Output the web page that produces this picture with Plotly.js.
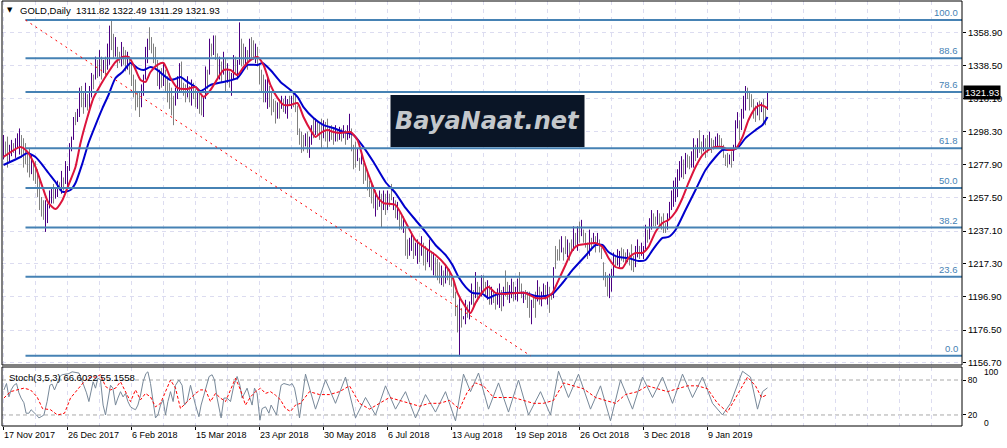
<!DOCTYPE html>
<html><head><meta charset="utf-8">
<script src="https://cdn.plot.ly/plotly-3.0.1.min.js"></script>
<style>html,body{margin:0;padding:0;background:#fff;}#chart{width:1007px;height:448px;}</style>
</head><body><div id="chart"></div>
<script>
// ---- price bars (daily high / low, direction: 1 = up bar, 0 = down bar) ----
const barHigh = [
1296,1292,1295,1290,1293,1291,1294,1297,1300,1296,1294,1291,1285,1288,1284,1280,
1280,1275,1269,1258,1256,1256,1254,1262,1264,1266,1264,1268,1267,1274,1270,1280,
1277,1291,1295,1307,1310,1312,1325,1326,1322,1328,1321,1326,1334,1333,1344,1342,
1348,1344,1342,1344,1352,1363,1366.4,1358,1356,1350,1347,1353,1350,1348,1347,1344,
1340,1333,1330,1323,1322,1327,1333,1350,1355,1362,1356,1352,1350,1342,1336,1337,
1340,1336,1332,1328,1325,1320,1325,1332,1340,1341,1328,1327,1332,1326,1330,1328,
1324,1322,1323,1321,1320,1338,1336,1355,1352,1357,1357,1346,1344,1341,1347,1343,
1340,1335,1334,1345,1344,1342,1365,1355,1352,1350,1348,1355,1356,1354,1352,1350,
1340,1336,1333,1330,1332,1326,1322,1318,1317,1316,1318,1320,1318,1320,1318,1320,
1320,1322,1320,1314,1300,1298,1296,1297,1298,1295,1302,1306,1306,1305,1303,1306,
1305,1304,1306,1300,1302,1300,1302,1299,1301,1300,1302,1299,1302,1309,1300,1290,
1292,1288,1282,1286,1279,1276,1274,1268,1266,1265,1262,1258,1262,1260,1262,1260,
1262,1260,1266,1258,1256,1255,1250,1247,1246,1240,1232,1233,1236,1234,1230,1232,
1230,1234,1230,1228,1226,1232,1225,1224,1221,1220,1218,1216,1213,1216,1215,1214,
1210,1207,1200,1192,1196,1190,1185,1195,1192,1194,1205,1201,1212,1206,1203,1210,
1210,1206,1207,1204,1203,1201,1199,1202,1205,1201,1203,1213,1206,1204,1208,1206,
1203,1208,1212,1205,1200,1201,1200,1200,1195,1197,1200,1207,1203,1200,1205,1204,
1206,1203,1199,1215,1228,1226,1232,1234,1227,1234,1232,1230,1232,1240,1236,1240,
1243,1244,1238,1236,1230,1238,1233,1236,1234,1236,1232,1227,1218,1212,1210,1211,
1214,1224,1222,1226,1225,1227,1226,1224,1226,1224,1229,1222,1228,1232,1228,1230,
1228,1241,1238,1245,1250,1248,1246,1250,1248,1246,1248,1242,1248,1255,1262,1268,
1270,1275,1280,1283,1281,1285,1284,1283,1286,1294,1290,1294,1299,1292,1296,1294,
1296,1298,1294,1293,1295,1297,1296,1294,1290,1284,1285,1284,1286,1290,1305,1310,
1305,1312,1320,1326,1325,1323,1321,1318,1314,1316,1317,1316,1318,1313,1322.49
];
const barLow = [
1281,1284,1276,1279,1283,1285,1282,1288,1284,1282,1276,1278,1273,1270,1272,1268,
1266,1258,1250,1246,1244,1236.6,1242,1251,1254,1254,1257,1258,1262,1260,1262,1266,
1264,1274,1286,1293,1302,1304,1307,1313,1309,1313,1311,1310,1319,1324,1330,1331,
1332,1330,1334,1332,1336,1339,1348,1343,1344,1337,1340,1338,1339,1335,1336,1333,
1326,1319,1311,1313,1307,1313,1320,1330,1340,1348,1346,1340,1338,1326,1324,1325,
1326,1322,1316,1312,1308,1302,1314,1318,1322,1322,1320,1316,1319,1316,1314,1318,
1313,1312,1309,1308,1307,1318,1324,1333,1344,1345,1342,1331,1330,1328,1333,1322,
1328,1325,1320,1330,1334,1330,1339,1338,1339,1338,1336,1342,1343,1342,1340,1338,
1327,1322,1316,1316,1312,1313,1308,1310,1303,1306,1306,1312,1310,1309,1306,1314,
1312,1313,1310,1296,1290,1285,1286,1289,1285,1282,1290,1294,1296,1296,1293,1288,
1294,1292,1288,1292,1293,1290,1292,1292,1293,1292,1294,1290,1293,1294,1286,1275,
1276,1280,1274,1278,1266,1268,1262,1258,1254,1251,1246,1250,1252,1239,1250,1247,
1250,1252,1256,1250,1245,1244,1238,1238,1236,1222,1220,1222,1225,1220,1222,1217,
1218,1222,1216,1213,1218,1215,1213,1210,1209,1207,1205,1204,1203,1205,1207,1204,
1203,1196,1185,1175,1160.4,1178,1183,1180,1184,1183,1192,1191,1196,1194,1196,1197,
1199,1197,1195,1192,1192,1193,1189,1192,1190,1188,1191,1197,1195,1193,1196,1194,
1195,1194,1200,1196,1193,1195,1190,1184,1180,1190,1184,1194,1192,1191,1197,1195,
1192,1187,1195,1196,1214,1219,1219,1224,1219,1223,1221,1219,1225,1225,1228,1225,
1230,1234,1230,1227,1220,1222,1225,1229,1224,1228,1224,1220,1207,1203,1197,1196,
1200,1209,1215,1216,1215,1219,1218,1217,1218,1216,1213,1212,1215,1221,1220,1222,
1220,1226,1230,1232,1238,1240,1240,1241,1239,1238,1236,1236,1238,1244,1250,1252,
1255,1258,1268,1270,1269,1272,1276,1275,1276,1276,1280,1282,1285,1284,1286,1282,
1285,1287,1285,1287,1289,1288,1289,1286,1282,1277,1276,1278,1276,1280,1287,1300,
1293,1299,1306,1311,1318,1311,1313,1306,1304,1308,1305,1310,1303,1302,1311.29
];
const barUp = [
1,0,0,1,1,0,1,1,1,0,0,0,0,0,1,0, 0,0,0,0,0,1,1,1,1,0,1,1,0,1,0,1,
1,1,1,1,0,1,1,0,0,1,0,1,1,0,1,0, 1,0,1,0,1,1,0,0,1,0,0,1,0,0,1,0,
0,0,0,0,0,1,1,1,1,0,0,0,0,0,1,0, 1,0,0,0,0,0,1,1,1,0,0,0,1,0,1,0,
0,1,0,0,1,1,0,1,0,1,0,0,1,0,1,0, 1,0,1,1,0,1,1,0,0,1,0,1,0,0,1,0,
0,0,0,1,1,0,0,0,0,1,0,1,0,1,1,0, 1,0,0,0,0,0,0,1,0,1,1,0,1,0,0,0,
1,0,0,1,0,0,1,0,1,0,1,0,1,1,0,0, 0,1,0,1,0,0,0,0,0,0,1,0,1,0,1,0,
1,0,0,1,0,1,0,0,1,0,0,1,1,0,1,1, 0,1,0,0,1,1,0,1,0,0,0,1,0,1,0,0,
0,0,0,0,1,0,1,1,0,1,1,0,1,0,0,1, 0,0,1,0,1,0,0,1,1,0,1,0,0,1,1,0,
1,1,0,0,1,0,0,0,1,0,0,1,0,1,1,0, 1,0,0,1,0,0,0,1,0,0,1,0,0,1,0,1,
0,1,0,0,0,1,0,1,0,1,0,0,0,0,0,1, 1,1,0,1,1,0,0,0,1,0,0,0,1,1,0,1,
1,1,0,1,1,0,0,1,0,0,0,0,1,1,1,1, 1,1,1,1,0,1,0,0,1,1,0,1,0,0,1,0,
0,1,0,0,1,1,0,0,0,0,0,1,0,1,1,1, 0,1,1,1,0,0,0,0,0,1,0,1,0,0,1
];

// ---- moving averages (bar index, price) ----
const fastMaX = [0,8.5,12,16,19.5,22.5,26,29.5,32.5,36,38.5,42,45,48.5,52.5,56,59.5,62.5,65,68.5,71,73.5,77,80,83.5,87,92,96,100,103.5,106,110,113.5,117,120,123.5,127,130,133.5,137,140,143.5,147,150,153.5,156,158.5,162,165,168.5,173.5,177,180,183.5,187,190,196,201,206,211,216,221,224.5,227,231,233.5,236,239.5,242.5,246,251,256,261,266,271,274.5,277.5,281,284.5,287.5,291,296,299.5,302.5,306,309.5,312.5,316,319.5,322.5,326,329.5,332.5,336,339.5,342.5,346,349.5,352.5,356,359.5,362.5,366,369.5,372.5,376,378.5,382];
const fastMaY = [1282.5,1288.6,1285.6,1276.4,1264.1,1254.3,1250.6,1256.2,1265.3,1276.4,1291.1,1307,1318.7,1326.6,1334.6,1340.7,1343.8,1343.8,1338.9,1329.7,1328.5,1334.6,1338.9,1340.1,1330.9,1324.8,1324.2,1325.4,1319.3,1323.6,1328.5,1335.8,1335.8,1332.7,1337.6,1341.9,1343.8,1338.9,1326.6,1318.7,1314.4,1314.4,1315.6,1307,1299,1294.8,1297.2,1299,1297.8,1297.2,1297.8,1292.9,1280.7,1268.4,1258,1254.3,1253.1,1242.7,1231.6,1226.7,1222.5,1216.3,1209,1199.2,1190.6,1186.9,1193,1199.8,1202.9,1199.2,1198.6,1199.2,1199.2,1196.1,1196.1,1199.2,1207.1,1216.3,1225.5,1228.6,1229.2,1229.8,1227.4,1220.6,1215.1,1214.5,1220.6,1223.7,1223.7,1227.4,1236.6,1242.1,1243.9,1248.8,1257.4,1266.6,1276.4,1283.7,1286.8,1288.6,1288.6,1286.8,1287.4,1294.8,1305.2,1312.5,1314.4,1312.5];
const slowMaX = [0,8.5,12,16,19.5,22.5,26,29.5,33.5,36,39.5,42.5,46,49.5,52.5,56,59.5,63.5,67,70,73.5,77,80,83.5,87,88.5,92,96,98.5,103.5,110,117,122,127,129.5,133.5,138.5,143.5,147,150,155,160,165,170,175,180,185,191,196,201,206,211,216,221,224.5,227.5,231,234.5,239.5,242.5,246,251,256,261,266,271,274.5,279.5,284.5,291,296,299.5,302.5,307.5,312.5,317.5,321,324.5,329.5,332.5,336,341,346,351,356,359.5,364.5,367.5,371,376,379.5,382];
const slowMaY = [1277.6,1282.5,1285,1282.5,1277.6,1272.7,1267.2,1261.1,1262.3,1266.6,1278.8,1291.1,1302.1,1312.5,1320.5,1330.9,1334.6,1340.1,1337,1335.8,1337.6,1335.8,1332.7,1329.7,1330.9,1331.5,1328.5,1325.4,1322.9,1326.6,1328.5,1330.9,1338.9,1338.9,1340.1,1335.8,1328.5,1323.6,1319.3,1313.1,1306.4,1302.1,1300.3,1297.8,1296,1288.6,1279.4,1267.2,1260.4,1251.3,1243.9,1236.6,1228.6,1222.5,1216.3,1209,1202.9,1199.2,1198.6,1196.1,1198,1199.2,1199.2,1199.2,1197.3,1197.3,1198.6,1205.3,1213.3,1222,1228.6,1228.6,1224.3,1221.2,1220.6,1218.8,1219.4,1225.5,1232.9,1233.5,1237.8,1250,1262.3,1274.5,1282.5,1286.8,1286.8,1288.6,1294.1,1299,1302.1,1307];

// ---- stochastic (3,5,3): main and signal (bar index, value) ----
const stochX = [0.2,1.5,2.7,3.8,5.2,6.5,7.7,8.8,10.2,11.3,12.7,13.8,16.5,17.7,18.8,20.2,21.8,23.2,24.3,25.5,26.8,28.2,29.3,32.7,34.3,37.7,38.8,40.2,41.5,42.7,43.8,44.8,46,47.2,48.5,49.8,51,52.2,53.5,54.7,56,57.2,58.5,59.8,61,62.2,63.5,64.8,66,67.2,68.5,69.8,71.2,72.2,73.5,74.8,76,77.2,78.5,79.8,81,82.2,83.5,84.8,86,87.7,89.3,90.5,91.8,93.5,94.8,96,97.7,98.8,100.2,101.5,102.8,104.3,105.5,106.8,108.2,108.8,110.2,111.8,113.5,115.2,116.8,118.2,119.3,120.5,121.8,123.2,124.3,125.5,126.8,128.2,129.3,131,132.7,133.8,136.5,137.7,138.8,140.2,143.2,144.3,145.5,146.8,148,151,156,161,166,171,176,181,186,191,196,201,206,211,216,221,226,230,233.5,237.5,242.5,247.5,252.5,257.5,262.5,268.5,273.5,277.5,282.5,287.5,293.5,298.5,303.5,308.5,314.5,319.5,324.5,329.5,334.5,339.5,344.5,349.5,354.5,359.5,363.5,369.5,373.5,377,379.5,382];
const stochY = [63,74,51,63,71,74,58,49,41,23,23,29,20,15,17,20,43,71,73,63,74,86,89,91,94,92,83,71,58,43,60,77,66,83,80,37,20,43,71,66,37,49,60,51,57,43,34,31,29,37,54,77,91,94,74,43,15,20,37,46,20,43,60,43,71,80,71,37,43,71,51,37,17,37,54,71,86,89,80,49,26,15,49,49,43,71,86,71,49,57,66,49,37,66,57,11,31,34,23,37,20,49,71,74,71,74,66,43,15,90,30,80,40,85,15,50,20,70,30,60,15,55,25,60,10,90,60,92,30,75,25,80,20,60,20,95,50,90,30,70,10,80,30,85,50,85,40,90,50,85,40,20,40,95,85,30,60,66.6];
const signalX = [0.2,3.5,6.8,10.2,13.5,16.8,19.5,23.5,27,30.5,33.5,36,38.5,41,43.5,46,48.5,51,53.5,56,58.5,61,63.5,66,68.5,71,73.5,76,78.5,81,83.5,86,88.5,91,93.5,96,98.5,101,103.5,106,108.5,111,113.5,116,118.5,121,123.5,126,128.5,131,133.5,136,138.5,141,143.5,146,148.5,153,158,163,168,173,178,183,188,193,198,203,208,213,218,223,228,232,236,240,245,250,255,260,265,270,275,280,285,290,296,301,306,311,317,322,327,332,337,342,347,352,357,362,367,372,376,379,382];
const signalY = [49,60,63,66,63,51,31,29,20,23,49,60,71,80,85,85,89,69,63,66,77,60,43,63,46,57,51,34,40,60,80,66,31,40,49,57,63,63,43,57,49,43,63,83,63,37,51,60,66,57,60,54,46,31,26,37,40,60,55,55,60,70,40,30,40,50,45,40,35,40,40,45,30,60,75,70,50,50,50,45,40,40,45,75,70,65,50,45,40,55,60,70,65,60,65,70,70,65,40,25,55,85,70,50,55.2];

// ---- axes, levels, labels ----
const priceTicks = [1156.70,1176.50,1196.90,1217.30,1237.10,1257.50,1277.90,1298.30,1318.10,1338.50,1358.90];
const dateTickBars = [0,32,64,96,128,160,192,224,256,288,320,352];
const dateTickText = ["17 Nov 2017","26 Dec 2017","6 Feb 2018","15 Mar 2018","23 Apr 2018","30 May 2018","6 Jul 2018","13 Aug 2018","19 Sep 2018","26 Oct 2018","3 Dec 2018","9 Jan 2019"];
const fibLabels = ["0.0","23.6","38.2","50.0","61.8","78.6","88.6","100.0"];
const fibPrices = [1160.7,1209.2,1239.3,1263.55,1287.8,1322.4,1343.0,1366.4];
const fibStartBar = 11, fibEndBar = 263.5;
const stochLevels = [20,80];
const stochMinMax = [0,100];
const header = "GOLD,Daily\u00a0\u00a01311.82 1322.49 1311.29 1321.93";
const stochHeader = "Stoch(3,5,3) 66.6022 55.1558";
const lastPrice = 1321.93;

const FONT = "Liberation Sans, Arial, sans-serif";
const upColor = "#4B0082", dnColor = "#808080";
const gridColor = "#dcdcf0";
const XR = [-0.75, 479.25];

function barTrace(flag, color){
  const xs=[], ys=[];
  for(let i=0;i<barHigh.length;i++){
    if(barUp[i]!==flag) continue;
    xs.push(i,i,null); ys.push(barLow[i],barHigh[i],null);
  }
  return {type:'scatter',mode:'lines',x:xs,y:ys,xaxis:'x',yaxis:'y',
    line:{color:color,width:1},hoverinfo:'skip',showlegend:false,connectgaps:false};
}

const traces = [
  barTrace(0,dnColor),
  barTrace(1,upColor),
  {type:'scatter',mode:'lines',x:slowMaX,y:slowMaY,xaxis:'x',yaxis:'y',line:{color:'#0000CD',width:2,shape:'spline',smoothing:0.6},showlegend:false},
  {type:'scatter',mode:'lines',x:fastMaX,y:fastMaY,xaxis:'x',yaxis:'y',line:{color:'#DC143C',width:2,shape:'spline',smoothing:0.6},showlegend:false},
  {type:'scatter',mode:'lines',x:stochX,y:stochY,xaxis:'x',yaxis:'y2',line:{color:'#778899',width:1},showlegend:false},
  {type:'scatter',mode:'lines',x:signalX,y:signalY,xaxis:'x',yaxis:'y2',line:{color:'#FF0000',width:1,dash:'3px,2px'},showlegend:false}
];

const H = 425;
function py(p){ return (426 - p)/H; } // pixel row -> paper fraction
const mainDom = [py(365), 1];
const stDom = [0, py(367)];

const shapes = [];
fibPrices.forEach(p=>{
  shapes.push({type:'line',xref:'x',yref:'y',x0:fibStartBar,x1:XR[1],y0:p,y1:p,line:{color:'#4682B4',width:2},layer:'above'});
});
shapes.push({type:'line',xref:'x',yref:'y',x0:fibStartBar,y0:fibPrices[7],x1:fibEndBar,y1:fibPrices[0],line:{color:'#FF0000',width:1,dash:'2px,4px'},layer:'above'});
stochLevels.forEach(v=>shapes.push({type:'line',xref:'x',yref:'y2',x0:XR[0],x1:XR[1],y0:v,y1:v,line:{color:'#a8a8a8',width:1,dash:'4px,3px'},layer:'below'}));
// watermark box
shapes.push({type:'rect',xref:'x',yref:'y',x0:193.5,x1:290.5,y0:1288.6,y1:1320.5,fillcolor:'#0a1526',line:{width:0},layer:'above'});
// frames
shapes.push({type:'rect',xref:'paper',yref:'paper',x0:0,x1:1,y0:mainDom[0],y1:1,line:{color:'#000',width:1}});
shapes.push({type:'rect',xref:'paper',yref:'paper',x0:0,x1:1,y0:0,y1:stDom[1],line:{color:'#000',width:1}});

const annotations = [];
fibPrices.forEach((p,k)=>{
  annotations.push({xref:'paper',yref:'y',x:1,y:p,xanchor:'right',yanchor:'bottom',xshift:-2,yshift:0,text:fibLabels[k],showarrow:false,font:{family:FONT,size:9.5,color:'#4682B4'}});
});
annotations.push({xref:'paper',yref:'paper',x:0,y:1,xanchor:'left',yanchor:'top',xshift:3,yshift:-3,text:'\u25BC',showarrow:false,font:{family:'DejaVu Sans',size:7,color:'#000'}});
annotations.push({xref:'paper',yref:'paper',x:0,y:1,xanchor:'left',yanchor:'top',xshift:16,yshift:-2,text:header,showarrow:false,font:{family:FONT,size:9.5,color:'#000'}});
annotations.push({xref:'paper',yref:'paper',x:0,y:py(377),xanchor:'left',yanchor:'middle',xshift:5,text:stochHeader,showarrow:false,font:{family:FONT,size:9.5,color:'#000'}});
annotations.push({xref:'paper',yref:'y',x:1,y:lastPrice,xanchor:'left',yanchor:'middle',xshift:1,text:lastPrice.toFixed(2),showarrow:false,bgcolor:'#000',borderpad:1,font:{family:FONT,size:9.5,color:'#fff'}});
annotations.push({xref:'x',yref:'y',x:242,y:1304.5,xanchor:'center',yanchor:'middle',text:'<b><i>BayaNaat.net</i></b>',showarrow:false,font:{family:'DejaVu Sans',size:24,color:'#c4c8cc'}});
// stochastic window max / min labels, placed just inside the window edges
annotations.push({xref:'paper',yref:'paper',x:1,y:py(371.5),xanchor:'left',yanchor:'middle',xshift:20,text:String(stochMinMax[1]),showarrow:false,font:{family:FONT,size:8.5,color:'#000'}});
annotations.push({xref:'paper',yref:'paper',x:1,y:py(423),xanchor:'left',yanchor:'middle',xshift:20,text:String(stochMinMax[0]),showarrow:false,font:{family:FONT,size:8.5,color:'#000'}});

const layout = {
  width:1007,height:448,
  margin:{l:2,r:45,t:1,b:22,pad:0},
  paper_bgcolor:'#fff',plot_bgcolor:'#fff',
  showlegend:false,
  font:{family:FONT,size:9,color:'#000'},
  xaxis:{anchor:'y2',range:XR,tickmode:'array',tickvals:dateTickBars,ticktext:dateTickText,
    ticks:'outside',ticklen:3,tickcolor:'#000',ticklabelposition:'outside right',
    showgrid:true,gridcolor:gridColor,griddash:'4px,4px',gridwidth:1,
    minor:{dtick:16,tick0:0,showgrid:true,gridcolor:gridColor,griddash:'4px,4px'},
    zeroline:false,showline:false,tickfont:{family:FONT,size:9,color:'#000'},fixedrange:true},
  yaxis:{domain:mainDom,anchor:'x',side:'right',range:[1155.05,1378.1],tickmode:'array',tickvals:priceTicks,
    ticktext:priceTicks.map(v=>v.toFixed(2)),ticks:'outside',ticklen:3,tickcolor:'#000',
    showgrid:true,gridcolor:gridColor,griddash:'4px,4px',zeroline:false,showline:false,
    tickfont:{family:FONT,size:9.5,color:'#000'},fixedrange:true},
  yaxis2:{domain:stDom,anchor:'x',side:'right',range:[1.1,102.3],tickmode:'array',tickvals:stochLevels,
    ticktext:stochLevels.map(String),ticks:'outside',ticklen:3,tickcolor:'#000',showgrid:false,zeroline:false,showline:false,
    tickfont:{family:FONT,size:8.5,color:'#000'},fixedrange:true},
  shapes:shapes,annotations:annotations
};
Plotly.newPlot('chart',traces,layout,{staticPlot:true,displayModeBar:false});
</script></body></html>
